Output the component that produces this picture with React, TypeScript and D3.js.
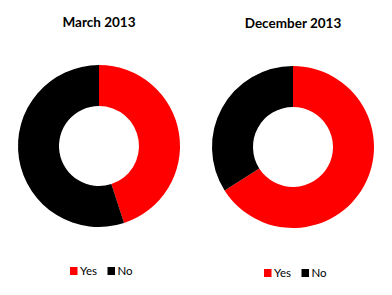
import React from "react";
import * as d3 from "d3";

const categories = ["Yes", "No"];
const chartTitles = ["March 2013", "December 2013"];
const marchValues = [45, 55];
const decemberValues = [66, 34];
const colors = ["#FF0000", "#000000"];

const W = 392;
const H = 295;

const panels = [
  { title: chartTitles[0], values: marchValues, cx: 99, cy: 146, titleY: 27, legendX: 70, legendY: 275 },
  { title: chartTitles[1], values: decemberValues, cx: 293, cy: 147, titleY: 28, legendX: 264, legendY: 277 },
];

export default function App() {
  const pie = d3.pie<number>().sort(null).value((d) => d);
  const arc = d3.arc<d3.PieArcDatum<number>>().innerRadius(40).outerRadius(81);
  const color = d3.scaleOrdinal<string, string>().domain(categories).range(colors);
  const font = "Lato, 'Open Sans', 'Liberation Sans', sans-serif";

  return (
    <svg
      width={W}
      height={H}
      style={{ position: "absolute", left: 0, top: 0, background: "#fff" }}
    >
      <rect width={W} height={H} fill="#fff" />
      {panels.map((p, pi) => (
        <g key={pi}>
          <text
            x={p.cx}
            y={p.titleY}
            textAnchor="middle"
            fontFamily={font}
            fontWeight="bold"
            fontSize={13.5}
            fill="#000"
          >
            {p.title}
          </text>
          <g transform={`translate(${p.cx},${p.cy})`}>
            {pie(p.values).map((d, i) => (
              <path key={i} d={arc(d) || ""} fill={color(categories[i])} />
            ))}
          </g>
          <g transform={`translate(${p.legendX},${p.legendY})`}>
            {categories.map((c, i) => {
              const x = i * 37.5;
              return (
                <g key={c} transform={`translate(${x},0)`}>
                  <rect x={0} y={-8} width={7.5} height={8} fill={color(c)} />
                  <text x={10} y={0} fontFamily={font} fontSize={11.5} fill="#000">
                    {c}
                  </text>
                </g>
              );
            })}
          </g>
        </g>
      ))}
    </svg>
  );
}
